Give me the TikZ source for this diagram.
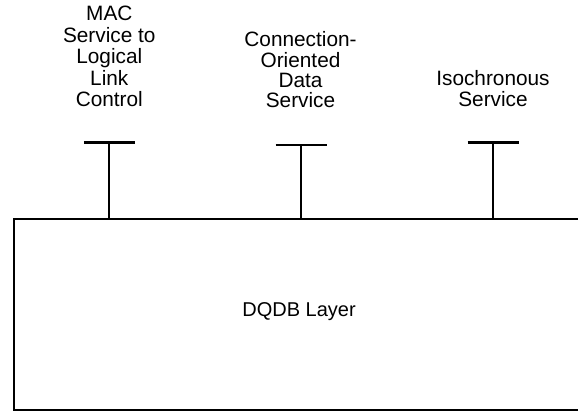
\documentclass[tikz,border=0pt]{standalone}
\usepackage{fontspec}
\setmainfont{Liberation Sans}
\begin{document}
\begin{tikzpicture}[x=1bp,y=-1bp,
  layerbox/.style={draw, line width=2.7bp, rectangle, inner sep=0pt, anchor=north west},
  svclabel/.style={inner sep=0pt, text depth=0pt, anchor=south, align=center,
    font=\fontsize{20.8bp}{21.5bp}\selectfont},
  sap/.style={line width=2.6bp},
  stem/.style={line width=2.2bp}]
  \useasboundingbox (0,0) rectangle (578,410);
  \clip (0,0) rectangle (578,410);

  % DQDB layer block (runs past the right edge)
  \node[layerbox, minimum width=600bp, minimum height=191bp] (dqdb) at (12.7,217.7) {};
  \node[inner sep=0pt, anchor=base, font=\fontsize{20bp}{24bp}\selectfont] (dqdbtext) at (299,316.7) {DQDB Layer};

  % service labels
  \node[svclabel] (mac) at (109.3,107) {MAC\\Service to\\Logical\\Link\\Control};
  \node[svclabel, font=\fontsize{20.8bp}{20.3bp}\selectfont] (cods) at (300.5,108) {Connection-\\Oriented\\Data\\Service};
  \node[svclabel] (iso) at (493,107) {Isochronous\\Service};

  % service access points
  \coordinate (s1) at (109.3,142.3);
  \coordinate (s2) at (301.2,145);
  \coordinate (s3) at (493.2,142.3);
  \foreach \s in {s1,s2,s3}{
    \draw[sap] ([xshift=-25.5bp]\s) -- ([xshift=25.5bp]\s);
    \draw[stem] (\s) -- (\s |- dqdb.north);
  }
\end{tikzpicture}
\end{document}
